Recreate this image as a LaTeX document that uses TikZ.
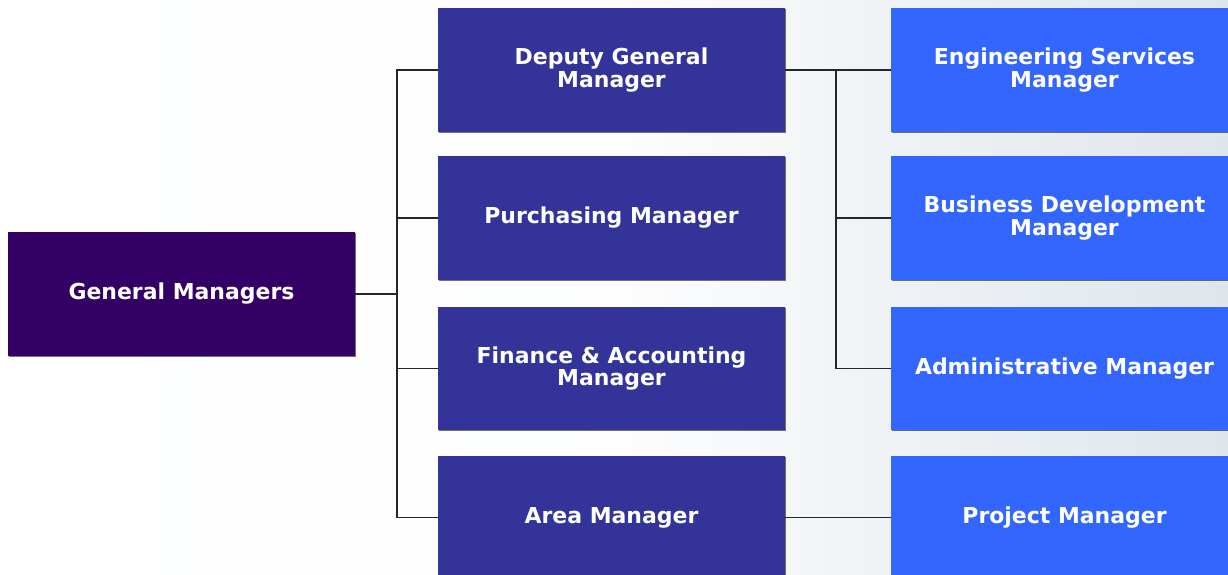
\documentclass[tikz,border=0pt]{standalone}
\usepackage{fontspec}
\setmainfont{DejaVu Sans}
\usetikzlibrary{positioning,shadows}
\definecolor{gmcol}{RGB}{51,0,102}
\definecolor{midcol}{RGB}{51,51,153}
\definecolor{rcol}{RGB}{51,102,255}
\definecolor{bgcol}{RGB}{222,229,235}
\begin{document}
\begin{tikzpicture}
[x=0.02cm,y=-0.02cm,
 box/.style={rectangle,text=white,align=center,minimum width=6.94cm,minimum height=2.47cm,
   font=\fontsize{12.5}{13}\selectfont\bfseries,
   drop shadow={shadow xshift=0.7pt,shadow yshift=-0.7pt,opacity=0.55,fill=black}},
 gmbox/.style={box,fill=gmcol},
 midbox/.style={box,fill=midcol},
 rbox/.style={box,fill=rcol},
 link/.style={draw=black!85,line width=0.8pt}]

\clip (0,0) rectangle (1228,575);
\shade[left color=white,right color=bgcol,middle color=white!94!bgcol] (0,0) rectangle (1228,575);

\node[gmbox] (G) at (181.5,294) {General Managers};

\node[midbox] (D) at (611.5,70) {Deputy General\\Manager};
\node[midbox] (P) at (611.5,218) {Purchasing Manager};
\node[midbox] (F) at (611.5,368.5) {Finance \& Accounting\\Manager};
\node[midbox] (A) at (611.5,517.5) {Area Manager};

\node[rbox] (E) at (1064.5,70) {Engineering Services\\Manager};
\node[rbox] (B) at (1064.5,218) {Business Development\\Manager};
\node[rbox] (AD) at (1064.5,368.5) {Administrative Manager};
\node[rbox] (PM) at (1064.5,517.5) {Project Manager};

\coordinate (j1) at (397,294);
\coordinate (j2) at (836,70);

\draw [link] (G) -- (j1);
\draw [link] (D.west) -| (j1);
\draw [link] (P.west) -| (j1);
\draw [link] (F.west) -| (j1);
\draw [link] (A.west) -| (j1);

\draw [link] (D.east) -- (E.west);
\draw [link] (B.west) -| (j2);
\draw [link] (AD.west) -| (j2);
\draw [link] (A.east) -- (PM.west);
\end{tikzpicture}
\end{document}
